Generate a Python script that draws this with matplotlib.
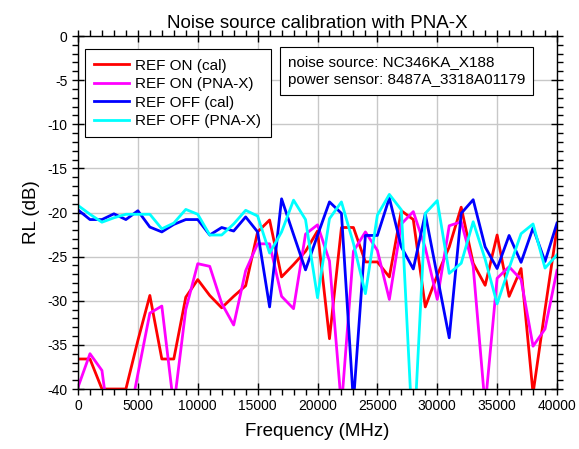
import matplotlib
matplotlib.use("Agg")
import matplotlib.pyplot as plt
from matplotlib.ticker import MultipleLocator

plt.rcParams['font.family'] = ['Liberation Sans', 'DejaVu Sans']
plt.rcParams['axes.unicode_minus'] = False

freq = list(range(0, 40001, 1000))

ref_on_cal = [-36.6, -36.6, -40, -40, -40, -34.5, -29.4, -36.6, -36.6, -29.6,
              -27.6, -29.4, -30.8, -29.5, -28.3, -22.2, -20.85, -27.3, -25.9, -24.4,
              -22.1, -34.3, -21.7, -21.7, -25.6, -25.6, -27.3, -19.8, -20.8, -30.7,
              -27.1, -23.9, -19.4, -25.75, -28.25, -22.55, -29.5, -26.35, -40.5, -31.0,
              -21.8]
ref_on_pna = [-39.8, -36.0, -37.9, -48.0, -45.4, -38.3, -31.4, -30.6, -42.0, -31.0,
              -25.8, -26.1, -30.3, -32.75, -26.6, -23.55, -23.55, -29.5, -30.9, -22.45,
              -21.4, -25.5, -42.0, -24.4, -22.2, -24.3, -29.85, -21.3, -19.9, -24.0,
              -29.85, -21.5, -21.05, -26.1, -42.0, -27.45, -26.15, -27.6, -35.15, -33.2,
              -26.55]
ref_off_cal = [-19.7, -20.8, -20.8, -20.15, -20.8, -19.8, -21.65, -22.2, -21.35, -20.8,
               -20.8, -22.55, -21.7, -22.1, -20.5, -22.2, -30.7, -18.45, -22.5, -26.5,
               -22.6, -18.8, -20.1, -41.5, -22.6, -22.6, -18.35, -23.9, -26.4, -20.15,
               -27.2, -34.2, -20.1, -18.55, -23.9, -26.35, -22.6, -25.65, -21.75, -25.55,
               -21.2]
ref_off_pna = [-19.2, -20.2, -21.1, -20.6, -20.2, -20.2, -20.2, -21.85, -21.2, -19.65,
               -20.2, -22.55, -22.55, -21.3, -19.75, -20.4, -24.6, -22.2, -18.6, -20.8,
               -29.65, -20.7, -18.8, -23.5, -29.2, -20.3, -17.95, -19.7, -46.7, -20.1,
               -18.65, -26.9, -25.75, -21.05, -25.3, -30.35, -26.3, -22.4, -21.3, -26.3,
               -24.8]

series_labels = ['REF ON (cal)', 'REF ON (PNA-X)', 'REF OFF (cal)', 'REF OFF (PNA-X)']
series_colors = ['#ff0000', '#ff00ff', '#0000ff', '#00ffff']
info_lines = ['noise source: NC346KA_X188', 'power sensor: 8487A_3318A01179']

fig = plt.figure(figsize=(5.79, 4.49), dpi=100)
ax = fig.add_axes([78/579, 1-389/449, (557-78)/579, (389-36)/449])

for ys, lab, col in zip([ref_on_cal, ref_on_pna, ref_off_cal, ref_off_pna],
                        series_labels, series_colors):
    ax.plot(freq, ys, color=col, lw=2.0, label=lab)

ax.set_xlim(0, 40000)
ax.set_ylim(-40, 0)
ax.xaxis.set_major_locator(MultipleLocator(5000))
ax.xaxis.set_minor_locator(MultipleLocator(1000))
ax.yaxis.set_major_locator(MultipleLocator(5))
ax.yaxis.set_minor_locator(MultipleLocator(1))
ax.grid(True, which='major', color='#c8c8c8', lw=1.0)
ax.set_axisbelow(True)
ax.tick_params(which='major', direction='inout', length=8, width=1,
               top=True, right=True, labelsize=10)
ax.tick_params(which='minor', direction='out', length=4, width=1,
               top=True, right=True)
for s in ax.spines.values():
    s.set_linewidth(1.0)

ax.set_title('Noise source calibration with PNA-X', fontsize=13.5, pad=6)
ax.set_xlabel('Frequency (MHz)', fontsize=13.5, labelpad=7)
ax.set_ylabel('RL (dB)', fontsize=13.5, labelpad=5)

leg = ax.legend(loc='upper left', bbox_to_anchor=(0.0146, 0.962), fontsize=11,
                frameon=True, fancybox=False, edgecolor='black', framealpha=1,
                handlelength=2.3, handletextpad=0.4, labelspacing=0.3,
                borderaxespad=0, borderpad=0.6)
leg.get_frame().set_linewidth(0.8)

ax.text(0.4375, 0.947, '\n'.join(info_lines), transform=ax.transAxes,
        fontsize=11, va='top', ha='left', linespacing=1.4,
        bbox=dict(boxstyle='square,pad=0.5', facecolor='white',
                  edgecolor='black', linewidth=0.8))

fig.savefig('out.png', dpi=100)
